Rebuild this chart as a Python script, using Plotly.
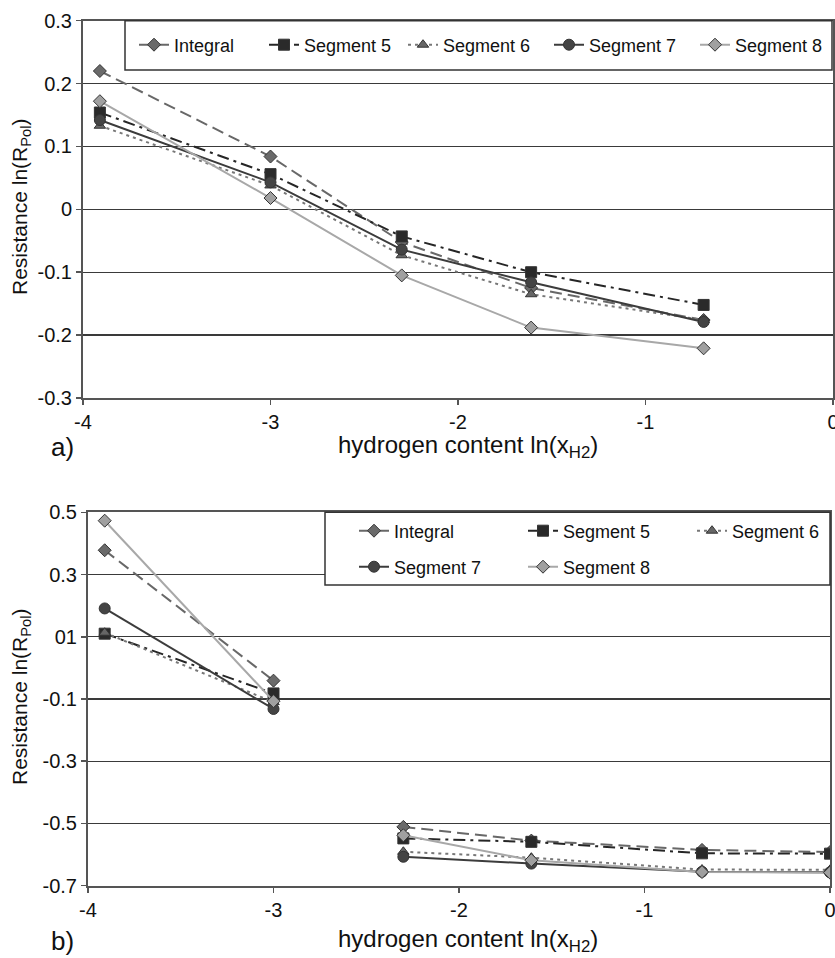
import plotly.graph_objects as go

W, H = 835, 958

# ---------------- data ----------------
series_names = ["Integral", "Segment 5", "Segment 6", "Segment 7", "Segment 8"]

# panel a) : x = ln(x_H2)
x_a = [-3.91, -3.0, -2.30, -1.61, -0.69]
a_integral = [0.220, 0.084, -0.052, -0.125, -0.176]
a_seg5 = [0.154, 0.056, -0.043, -0.100, -0.152]
a_seg6 = [0.133, 0.038, -0.073, -0.135, -0.176]
a_seg7 = [0.142, 0.043, -0.064, -0.116, -0.179]
a_seg8 = [0.172, 0.018, -0.105, -0.188, -0.221]

# panel b) : gap between -3.0 and -2.3
x_b = [-3.91, -3.0, -2.30, -1.61, -0.69, 0.0]
b_integral = [0.378, -0.041, -0.511, -0.555, -0.585, -0.592]
b_seg5 = [0.110, -0.082, -0.548, -0.559, -0.596, -0.597]
b_seg6 = [0.113, -0.110, -0.591, -0.610, -0.648, -0.649]
b_seg7 = [0.191, -0.132, -0.607, -0.629, -0.655, -0.657]
b_seg8 = [0.473, -0.107, -0.538, -0.618, -0.656, -0.658]

x_tickvals = [-4, -3, -2, -1, 0]
x_ticktext = ["-4", "-3", "-2", "-1", "0"]
ya_tickvals = [-0.3, -0.2, -0.1, 0, 0.1, 0.2, 0.3]
ya_ticktext = ["-0.3", "-0.2", "-0.1", "0", "0.1", "0.2", "0.3"]
yb_tickvals = [-0.7, -0.5, -0.3, -0.1, 0.1, 0.3, 0.5]
yb_ticktext = ["-0.7", "-0.5", "-0.3", "-0.1", "01", "0.3", "0.5"]

# ---------------- styles ----------------
styles = [
    dict(color="#686868", dash="12px,6px", width=2, symbol="diamond", mcolor="#6a6a6a", size=10),
    dict(color="#262626", dash="12px,5px,3px,5px", width=2, symbol="square", mcolor="#2a2a2a", size=11),
    dict(color="#777777", dash="3px,4px", width=2, symbol="triangle-up", mcolor="#666666", size=10),
    dict(color="#3c3c3c", dash="solid", width=2, symbol="circle", mcolor="#444444", size=11),
    dict(color="#a8a8a8", dash="solid", width=2, symbol="diamond", mcolor="#a0a0a0", size=10),
]


def px_x(x):
    return x / W


def px_y(y):
    return 1 - y / H


fig = go.Figure()

a_vals = [a_integral, a_seg5, a_seg6, a_seg7, a_seg8]
b_vals = [b_integral, b_seg5, b_seg6, b_seg7, b_seg8]

for i, (name, vals, st) in enumerate(zip(series_names, a_vals, styles)):
    fig.add_trace(go.Scatter(
        x=x_a, y=vals, name=name, mode="lines+markers",
        xaxis="x", yaxis="y",
        legend="legend" if i == 0 else f"legend{i + 1}",
        line=dict(color=st["color"], dash=st["dash"], width=st["width"]),
        marker=dict(symbol=st["symbol"], size=st["size"], color=st["mcolor"],
                    line=dict(color="#333333", width=1)),
    ))

for i, (name, vals, st) in enumerate(zip(series_names, b_vals, styles)):
    xs = x_b[:2] + [None] + x_b[2:]
    ys = vals[:2] + [None] + vals[2:]
    fig.add_trace(go.Scatter(
        x=xs, y=ys, name=name, mode="lines+markers",
        xaxis="x2", yaxis="y2", connectgaps=False,
        legend=f"legend{i + 6}",
        line=dict(color=st["color"], dash=st["dash"], width=st["width"]),
        marker=dict(symbol=st["symbol"], size=st["size"], color=st["mcolor"],
                    line=dict(color="#333333", width=1)),
    ))

font_family = "Liberation Sans, Arial, Helvetica, sans-serif"
tick_font = dict(family=font_family, size=20, color="#111111")

axis_common = dict(
    showgrid=False, zeroline=False, showline=True, linecolor="#555555", linewidth=2,
    ticks="outside", ticklen=5, tickcolor="#555555", tickwidth=1.5,
    tickfont=tick_font, mirror=True, fixedrange=True, automargin=False,
    ticklabeloverflow="allow",
)

layout = dict(
    template="none",
    width=W, height=H, autosize=False,
    margin=dict(l=0, r=0, t=0, b=0, pad=0, autoexpand=False),
    paper_bgcolor="white", plot_bgcolor="white",
    font=dict(family=font_family, size=18, color="#111111"),
    xaxis=dict(axis_common, domain=[px_x(83), px_x(833)], range=[-4, 0],
               tickvals=x_tickvals, ticktext=x_ticktext, anchor="y"),
    yaxis=dict(axis_common, domain=[px_y(398), px_y(20.7)], range=[-0.3, 0.3],
               tickvals=ya_tickvals, ticktext=ya_ticktext, anchor="x",
               showgrid=True, gridcolor="#3a3a3a", gridwidth=1.3),
    xaxis2=dict(axis_common, domain=[px_x(88), px_x(830)], range=[-4, 0],
                tickvals=x_tickvals, ticktext=x_ticktext, anchor="y2"),
    yaxis2=dict(axis_common, domain=[px_y(885.7), px_y(512.3)], range=[-0.7, 0.5],
                tickvals=yb_tickvals, ticktext=yb_ticktext, anchor="x2",
                showgrid=True, gridcolor="#3a3a3a", gridwidth=1.3),
    showlegend=True,
)

# legend entries positioned individually
legend_pos_a = [(174, 45), (304, 45), (443, 45), (589, 45), (735, 45)]
legend_pos_b = [(394, 531), (563, 531), (732, 531), (394, 567), (563, 567)]
for i, (tx, ty) in enumerate(legend_pos_a + legend_pos_b):
    key = "legend" if i == 0 else f"legend{i + 1}"
    layout[key] = dict(
        x=px_x(tx - 40), y=px_y(ty), xanchor="left", yanchor="middle",
        bgcolor="rgba(0,0,0,0)", borderwidth=0, orientation="h",
        font=dict(family=font_family, size=18, color="#111111"),
        itemwidth=30,
    )

fig.update_layout(**layout)

# legend boxes
fig.add_shape(type="rect", xref="paper", yref="paper",
              x0=px_x(125), x1=px_x(832), y0=px_y(70), y1=px_y(20.7),
              fillcolor="white", line=dict(color="#333333", width=1.5), layer="above")
fig.add_shape(type="rect", xref="paper", yref="paper",
              x0=px_x(325), x1=px_x(830), y0=px_y(585), y1=px_y(512.3),
              fillcolor="white", line=dict(color="#333333", width=1.5), layer="above")

ytitle_font = dict(family=font_family, size=21, color="#111111")
xtitle_font = dict(family=font_family, size=24, color="#111111")
annotations = [
    dict(text="Resistance ln(R<sub>Pol</sub>)", x=px_x(21), y=px_y(207), textangle=-90, font=ytitle_font),
    dict(text="Resistance ln(R<sub>Pol</sub>)", x=px_x(21), y=px_y(697), textangle=-90, font=ytitle_font),
    dict(text="hydrogen content ln(x<sub>H2</sub>)", x=px_x(468), y=px_y(446), font=xtitle_font),
    dict(text="hydrogen content ln(x<sub>H2</sub>)", x=px_x(468), y=px_y(940), font=xtitle_font),
]
for a in annotations:
    fig.add_annotation(xref="paper", yref="paper", xanchor="center", yanchor="middle",
                       showarrow=False, **a)
fig.add_annotation(text="a)", x=px_x(62), y=px_y(447), xref="paper", yref="paper",
                   xanchor="center", yanchor="middle",
                   showarrow=False, font=dict(family=font_family, size=26, color="#111111"))
fig.add_annotation(text="b)", x=px_x(62), y=px_y(958), xref="paper", yref="paper",
                   xanchor="center", yanchor="bottom",
                   showarrow=False, font=dict(family=font_family, size=26, color="#111111"))

fig.write_html(
    "out.html",
    config={"displayModeBar": False, "staticPlot": True},
    post_script=(
        "document.body.style.margin='0px';"
        "document.body.style.overflow='hidden';"
        "document.documentElement.style.overflow='hidden';"
    ),
)
